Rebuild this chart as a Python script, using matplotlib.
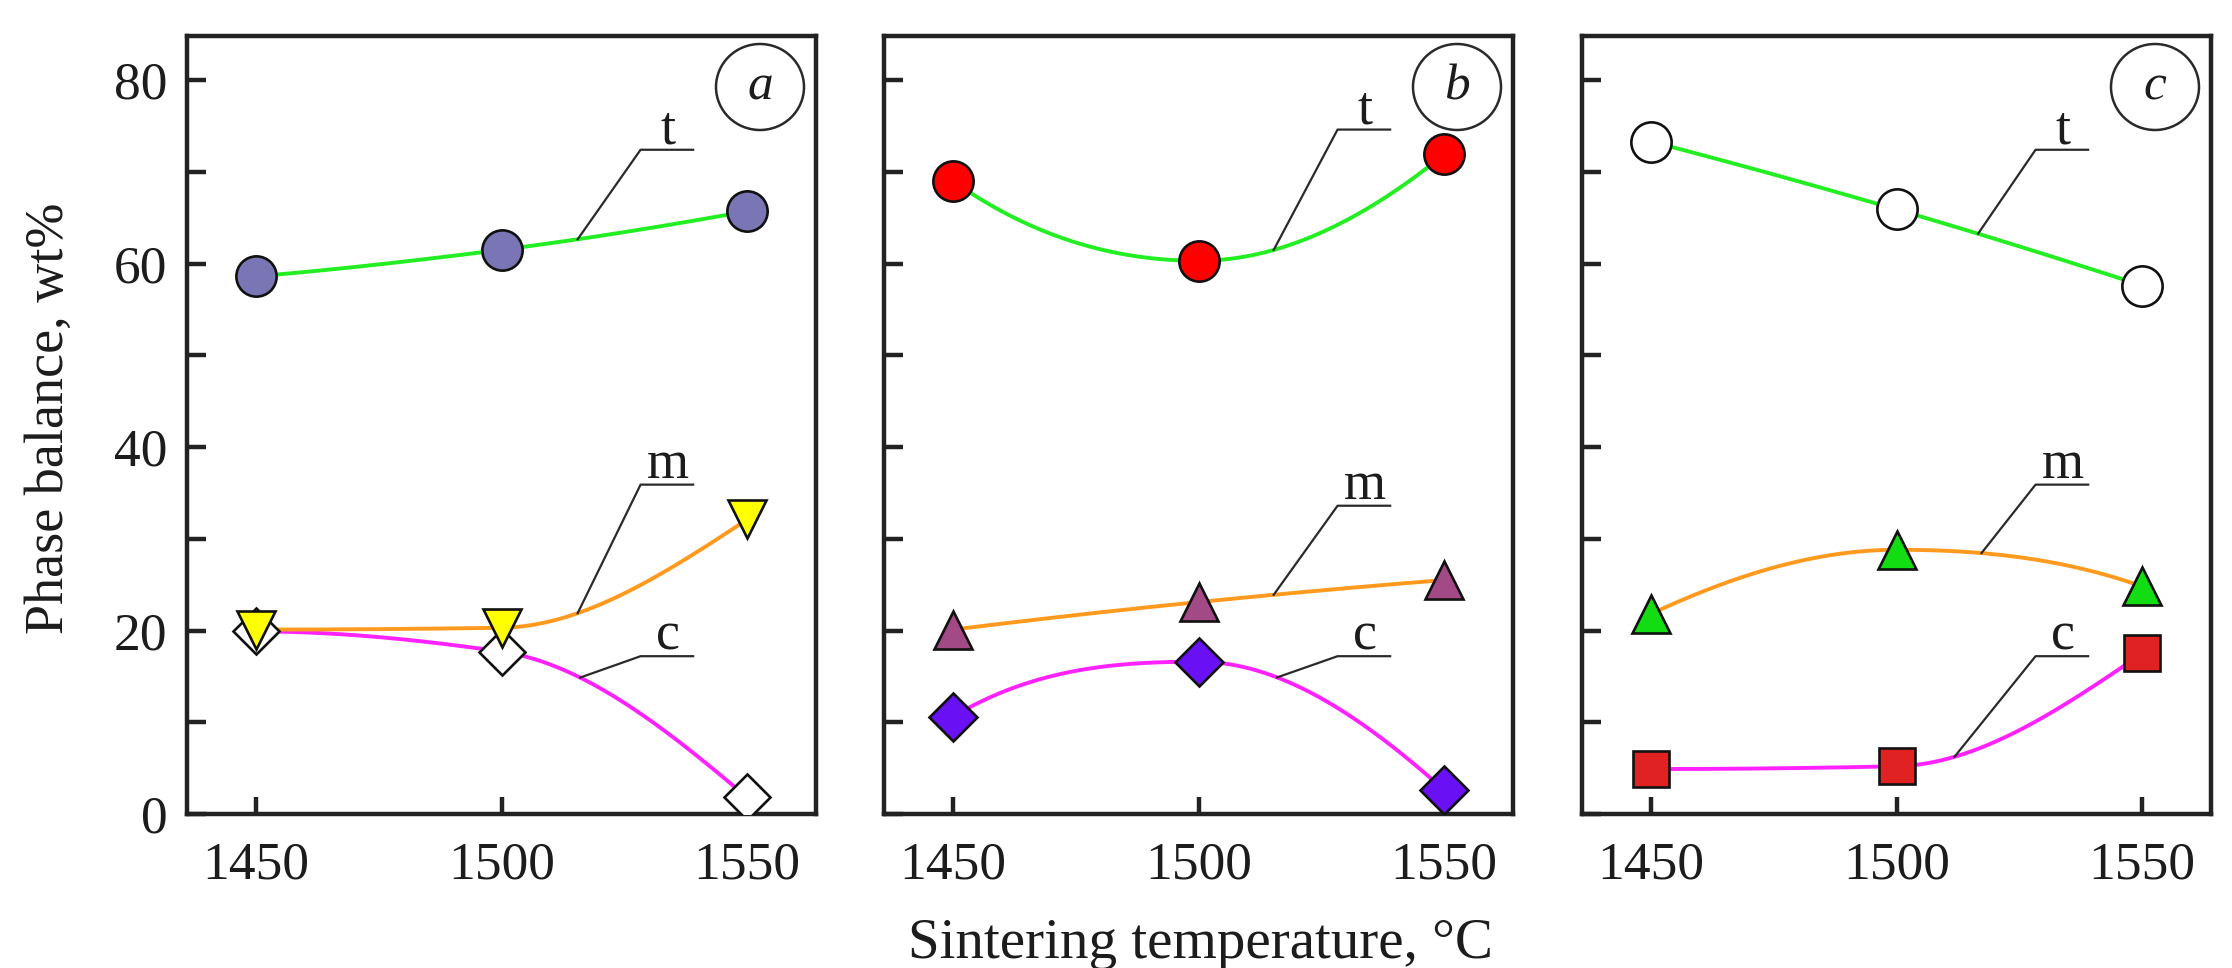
import numpy as np
import matplotlib
matplotlib.use("Agg")
import matplotlib.pyplot as plt
from matplotlib.patches import Ellipse

plt.rcParams["font.family"] = ["Liberation Serif", "DejaVu Serif"]

temps = [1450, 1500, 1550]

# phase content, wt% (t - tetragonal, m - monoclinic, c - cubic)
t_a = [58.6, 61.5, 65.7]
m_a = [20.1, 20.3, 32.1]
c_a = [19.9, 17.7, 1.8]

t_b = [69.0, 60.3, 71.9]
m_b = [20.1, 23.1, 25.5]
c_b = [10.6, 16.6, 2.6]

t_c = [73.3, 65.9, 57.6]
m_c = [21.8, 28.8, 24.8]
c_c = [4.9, 5.2, 17.5]

panel_names = ["a", "b", "c"]
y_ticks = [0, 20, 40, 60, 80]
x_label = "Sintering temperature, \u00b0C"
y_label = "Phase balance, wt%"

W, H = 2232, 968
lefts = [187, 884, 1582]
ax_w, ax_bot, ax_h = 629, 154, 778

line_col = {"t": "#22ee22", "m": "#ff9a1e", "c": "#ff22ff"}
ink = "#1c1c1c"

panels = [
    {"t": t_a, "m": m_a, "c": c_a,
     "mk": {"t": ("o", "#7a76b6", 29), "m": ("v", "#ffff00", 27), "c": ("D", "white", 23)},
     "lead": {"t": (1515.5, 72.4), "m": (1515.5, 35.9), "c": (1516.0, 17.2)}},
    {"t": t_b, "m": m_b, "c": c_b,
     "mk": {"t": ("o", "#ff0000", 29), "m": ("^", "#a24a86", 28), "c": ("D", "#6a10f5", 24)},
     "lead": {"t": (1515.3, 74.6), "m": (1515.3, 33.6), "c": (1516.0, 17.2)}},
    {"t": t_c, "m": m_c, "c": c_c,
     "mk": {"t": ("o", "white", 29), "m": ("^", "#12dd12", 28), "c": ("s", "#e02222", 26)},
     "lead": {"t": (1516.6, 72.4), "m": (1517.3, 35.9), "c": (1511.8, 17.2)}},
]


def pchip(x, y, xs):
    # shape-preserving cubic through the measured points
    x = np.asarray(x, float)
    y = np.asarray(y, float)
    h = np.diff(x)
    d = np.diff(y) / h
    n = len(x)
    m = np.zeros(n)
    for k in range(1, n - 1):
        if d[k - 1] * d[k] > 0:
            w1 = 2 * h[k] + h[k - 1]
            w2 = h[k] + 2 * h[k - 1]
            m[k] = (w1 + w2) / (w1 / d[k - 1] + w2 / d[k])

    def end(h0, h1, d0, d1):
        s = ((2 * h0 + h1) * d0 - h0 * d1) / (h0 + h1)
        if np.sign(s) != np.sign(d0):
            s = 0.0
        elif np.sign(d0) != np.sign(d1) and abs(s) > abs(3 * d0):
            s = 3 * d0
        return s

    m[0] = end(h[0], h[1], d[0], d[1])
    m[-1] = end(h[-1], h[-2], d[-1], d[-2])
    xs = np.asarray(xs, float)
    k = np.clip(np.searchsorted(x, xs) - 1, 0, n - 2)
    t = (xs - x[k]) / h[k]
    h00 = 2 * t**3 - 3 * t**2 + 1
    h10 = t**3 - 2 * t**2 + t
    h01 = -2 * t**3 + 3 * t**2
    h11 = t**3 - t**2
    return h00 * y[k] + h10 * h[k] * m[k] + h01 * y[k + 1] + h11 * h[k] * m[k + 1]


fig = plt.figure(figsize=(W / 100, H / 100), dpi=100)

xs = np.linspace(temps[0], temps[-1], 200)
for i, p in enumerate(panels):
    ax = fig.add_axes([lefts[i] / W, ax_bot / H, ax_w / W, ax_h / H])
    for key in ["c", "m", "t"]:
        ax.plot(xs, pchip(temps, p[key], xs), color=line_col[key], lw=2.8, zorder=2)
    for key in ["c", "m", "t"]:
        mk, fc, ms = p["mk"][key]
        ax.plot(temps, p[key], ls="none", marker=mk, ms=ms, mfc=fc,
                mec="#111111", mew=1.9, zorder=4)

    # leader lines with phase labels
    for key, (x0, ye) in p["lead"].items():
        y0 = float(pchip(temps, p[key], [x0])[0])
        ax.plot([x0, 1528.3, 1539.0], [y0, ye, ye], color="#2a2a2a", lw=1.6, zorder=3)
        ax.text(1533.8, ye + 0.7, key, fontsize=39, color=ink,
                ha="center", va="baseline", zorder=5)

    # panel letter in a circle
    ax.add_patch(Ellipse((1 - 56 / ax_w, 1 - 51 / ax_h), 88 / ax_w, 86 / ax_h,
                         transform=ax.transAxes, fill=False, ec="#2a2a2a", lw=1.8))
    ax.text(1 - 56 / ax_w, 1 - 51 / ax_h, panel_names[i], transform=ax.transAxes,
            fontsize=37, style="italic", color=ink, ha="center", va="center")

    ax.set_xlim(1436, 1564)
    ax.set_ylim(0, 84.8)
    ax.set_xticks(temps)
    ax.set_yticks(y_ticks)
    ax.set_yticks([10, 30, 50, 70], minor=True)
    for s in ax.spines.values():
        s.set_linewidth(3.2)
        s.set_color("#222222")
    ax.tick_params(axis="both", which="both", direction="in", width=3.2,
                   color="#222222", labelcolor=ink, labelsize=38.5)
    ax.tick_params(axis="y", which="both", length=13.5, pad=14)
    ax.tick_params(axis="x", length=12, pad=20)
    if i > 0:
        ax.tick_params(axis="y", labelleft=False)

fig.text(1200 / W, 1 - 958 / H, x_label, fontsize=41, color=ink,
         ha="center", va="baseline")
fig.text(50 / W, 1 - 418 / H, y_label, fontsize=39, color=ink,
         rotation=90, ha="center", va="center")

fig.savefig("out.png", dpi=100, facecolor="white")
